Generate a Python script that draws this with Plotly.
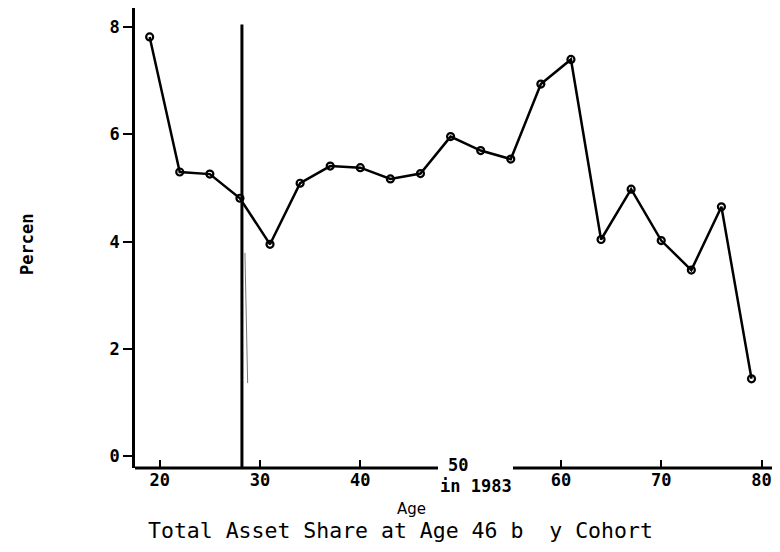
import plotly.graph_objects as go

# Data
ages = [19, 22, 25, 28, 31, 34, 37, 40, 43, 46, 49, 52, 55, 58, 61, 64, 67, 70, 73, 76, 79]
share_pct = [7.82, 5.30, 5.26, 4.81, 3.95, 5.09, 5.41, 5.38, 5.17, 5.27, 5.96, 5.70,
             5.54, 6.94, 7.40, 4.04, 4.98, 4.02, 3.47, 4.65, 1.44]

x_tick_vals = [20, 30, 40, 60, 70, 80]
x_tick_text = ["20", "30", "40", "60", "70", "80"]
y_tick_vals = [0, 2, 4, 6, 8]
y_tick_text = ["0", "2", "4", "6", "8"]

marker_age_label = "50"
marker_year_label = "in 1983"
vline_age = 28.2

title_text = "Total Asset Share at Age 46 b  y Cohort"
x_title = "Age"
y_title = "Percen"

MONO = "DejaVu Sans Mono"

fig = go.Figure()
fig.add_trace(go.Scatter(
    x=ages, y=share_pct, mode="lines+markers",
    line=dict(color="black", width=2.5),
    marker=dict(symbol="circle-open", size=7, color="black", line=dict(width=2.2, color="black")),
    showlegend=False, hoverinfo="x+y",
))

fig.update_layout(
    width=772, height=544,
    margin=dict(l=127, r=0, t=0, b=84),
    paper_bgcolor="white", plot_bgcolor="white",
    showlegend=False,
    xaxis=dict(
        range=[17.54, 81.84], showgrid=False, zeroline=False, showline=False,
        tickmode="array", tickvals=x_tick_vals, ticktext=x_tick_text,
        ticks="inside", ticklen=8, tickwidth=1.5, tickcolor="black",
        tickfont=dict(family=MONO, size=17, color="black", weight="bold"),
    ),
    yaxis=dict(
        range=[-0.224, 8.36], showgrid=False, zeroline=False,
        showline=True, linecolor="black", linewidth=2.5,
        tickmode="array", tickvals=y_tick_vals, ticktext=y_tick_text,
        ticks="outside", ticklen=9, tickwidth=2, tickcolor="black",
        tickfont=dict(family=MONO, size=17, color="black", weight="bold"),
    ),
    shapes=[
        # x axis line with a gap around the "50 in 1983" label
        dict(type="line", xref="paper", yref="paper", x0=0, x1=0.4698, y0=0, y1=0,
             line=dict(color="black", width=3)),
        dict(type="line", xref="paper", yref="paper", x0=0.586, x1=1, y0=0, y1=0,
             line=dict(color="black", width=3)),
        # vertical reference line
        dict(type="line", xref="x", yref="paper", x0=vline_age, x1=vline_age, y0=0, y1=0.964,
             line=dict(color="black", width=3)),
        dict(type="line", xref="x", yref="y", x0=vline_age + 0.3, x1=vline_age + 0.57, y0=3.79, y1=1.36,
             line=dict(color="#777777", width=1)),
    ],
    annotations=[
        dict(text=marker_age_label, x=49.76, xref="x", y=0.0065, yref="paper",
             showarrow=False, xanchor="center", yanchor="middle",
             font=dict(family=MONO, size=17, color="black", weight="bold")),
        dict(text=marker_year_label, x=51.5, xref="x", y=-0.039, yref="paper",
             showarrow=False, xanchor="center", yanchor="middle",
             font=dict(family=MONO, size=17, color="black", weight="bold")),
        dict(text=x_title, x=0.428, xref="paper", y=-0.089, yref="paper",
             showarrow=False, xanchor="center", yanchor="middle",
             font=dict(family="DejaVu Sans", size=15, color="black")),
        dict(text=title_text, x=0.412, xref="paper", y=-0.135, yref="paper",
             showarrow=False, xanchor="center", yanchor="middle",
             font=dict(family=MONO, size=21.5, color="black")),
        dict(text=y_title, x=-0.1674, xref="paper", y=0.485, yref="paper",
             showarrow=False, xanchor="center", yanchor="middle", textangle=-90,
             font=dict(family=MONO, size=17, color="black", weight="bold")),
    ],
)

fig.write_html("out.html")
